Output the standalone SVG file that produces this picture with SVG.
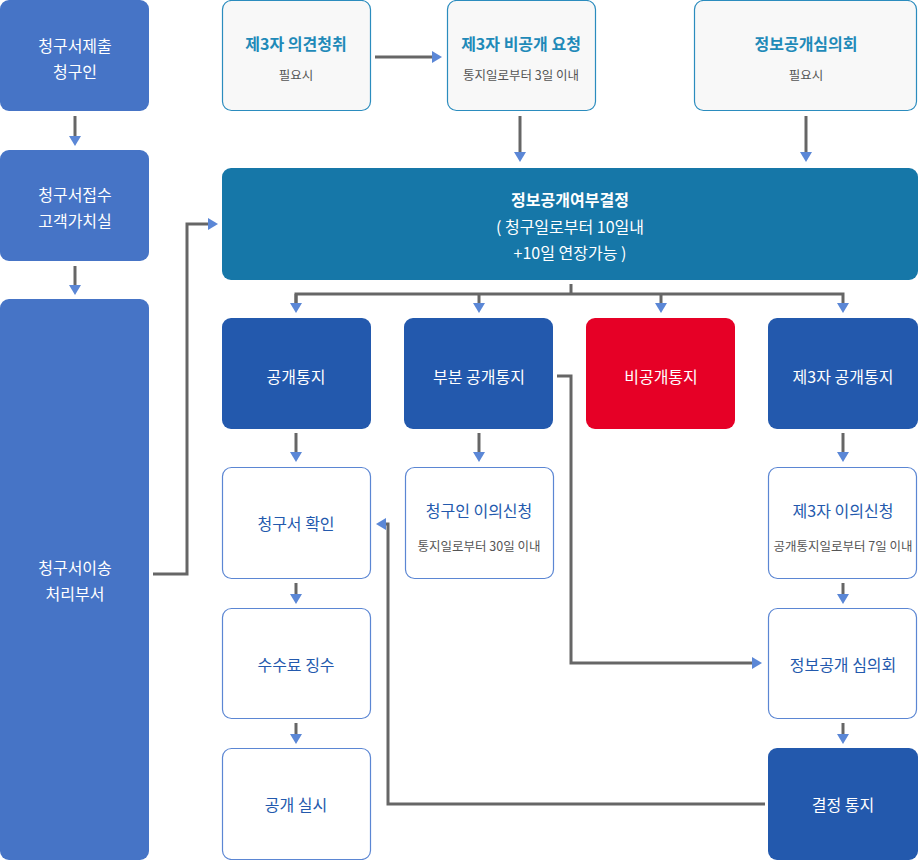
<svg xmlns="http://www.w3.org/2000/svg" width="918" height="860" viewBox="0 0 918 860">
<defs>
<style>
text{font-family:"Noto Sans CJK KR","Noto Sans",sans-serif;text-anchor:middle;letter-spacing:0px}
.left{fill:#4674c6}
.wt{fill:#fff;font-size:16px}
.top{fill:#f8f8f8;stroke:#2b8cbe;stroke-width:1.2}
.tt{fill:#1f8ab8;font-size:16px;font-weight:bold}
.sub{fill:#555;font-size:12.5px}
.teal{fill:#1677a8}
.dark{fill:#2359ad}
.red{fill:#e60026}
.wb{fill:#fff;stroke:#5b86d3;stroke-width:1.2}
.bt{fill:#2359ad;font-size:16px}
.c{fill:none;stroke:#666;stroke-width:3}
</style>
<marker id="ar" markerUnits="userSpaceOnUse" markerWidth="10" markerHeight="12" refX="0" refY="6" orient="auto" viewBox="0 0 10 12">
<path d="M0,0 L10,6 L0,12 z" fill="#5b87d6"/>
</marker>
</defs>
<g id="n1"><rect class="left" x="0" y="0" width="149" height="111" rx="9"/><text class="wt" x="75" y="52">청구서제출</text><text class="wt" x="75" y="78">청구인</text></g>
<g id="n2"><rect class="left" x="0" y="150" width="149" height="111" rx="9"/><text class="wt" x="75" y="201">청구서접수</text><text class="wt" x="75" y="227">고객가치실</text></g>
<g id="n3"><rect class="left" x="0" y="299" width="149" height="561" rx="9"/><text class="wt" x="75" y="574">청구서이송</text><text class="wt" x="75" y="600">처리부서</text></g>
<g id="n4"><rect class="top" x="222.5" y="0.5" width="148" height="110" rx="9"/><text class="tt" x="296" y="50">제3자 의견청취</text><text class="sub" x="296" y="80">필요시</text></g>
<g id="n5"><rect class="top" x="447.5" y="0.5" width="148" height="110" rx="9"/><text class="tt" x="521" y="50">제3자 비공개 요청</text><text class="sub" x="521" y="80">통지일로부터 3일 이내</text></g>
<g id="n6"><rect class="top" x="694.5" y="0.5" width="222" height="110" rx="9"/><text class="tt" x="806" y="50">정보공개심의회</text><text class="sub" x="806" y="80">필요시</text></g>
<g id="n7"><rect class="teal" x="222" y="168" width="696" height="112" rx="9"/><text class="wt" x="570" y="206" font-weight="bold">정보공개여부결정</text><text class="wt" x="570" y="233" font-size="15px">( 청구일로부터 10일내</text><text class="wt" x="570" y="259" font-size="15px">+10일 연장가능 )</text></g>
<g id="n8"><rect class="dark" x="222" y="318" width="149" height="111" rx="9"/><text class="wt" x="296" y="383">공개통지</text></g>
<g id="n9"><rect class="dark" x="404" y="318" width="149" height="111" rx="9"/><text class="wt" x="479" y="383">부분 공개통지</text></g>
<g id="n10"><rect class="red" x="586" y="318" width="149" height="111" rx="9"/><text class="wt" x="661" y="383">비공개통지</text></g>
<g id="n11"><rect class="dark" x="768" y="318" width="150" height="111" rx="9"/><text class="wt" x="843" y="383">제3자 공개통지</text></g>
<g id="n12"><rect class="wb" x="222.5" y="467.5" width="148" height="111" rx="9"/><text class="bt" x="296" y="530">청구서 확인</text></g>
<g id="n13"><rect class="wb" x="405.5" y="467.5" width="148" height="111" rx="9"/><text class="bt" x="479" y="517">청구인 이의신청</text><text class="sub" x="479" y="551">통지일로부터 30일 이내</text></g>
<g id="n14"><rect class="wb" x="768.5" y="467.5" width="148" height="111" rx="9"/><text class="bt" x="843" y="517">제3자 이의신청</text><text class="sub" x="843" y="551">공개통지일로부터 7일 이내</text></g>
<g id="n15"><rect class="wb" x="222.5" y="608.5" width="148" height="110" rx="9"/><text class="bt" x="296" y="671">수수료 징수</text></g>
<g id="n16"><rect class="wb" x="768.5" y="608.5" width="148" height="110" rx="9"/><text class="bt" x="843" y="671">정보공개 심의회</text></g>
<g id="n17"><rect class="wb" x="222.5" y="748.5" width="148" height="111" rx="9"/><text class="bt" x="296" y="811">공개 실시</text></g>
<g id="n18"><rect class="dark" x="768" y="748" width="150" height="112" rx="9"/><text class="wt" x="843" y="811">결정 통지</text></g>
<g id="connectors">
<path class="c" d="M75,116 V136" marker-end="url(#ar)"/>
<path class="c" d="M75,266 V285" marker-end="url(#ar)"/>
<path class="c" d="M375,57 H432" marker-end="url(#ar)"/>
<path class="c" d="M520,116 V152" marker-end="url(#ar)"/>
<path class="c" d="M806,116 V152" marker-end="url(#ar)"/>
<path class="c" d="M153,574 H187 V224 H208" marker-end="url(#ar)"/>
<path class="c" d="M571,284 V294"/>
<path class="c" d="M296,304 V294 H843 V303" marker-end="url(#ar)"/>
<path class="c" d="M296,294 V303" marker-end="url(#ar)"/>
<path class="c" d="M479,294 V303" marker-end="url(#ar)"/>
<path class="c" d="M661,294 V303" marker-end="url(#ar)"/>
<path class="c" d="M296,433 V452" marker-end="url(#ar)"/>
<path class="c" d="M479,433 V452" marker-end="url(#ar)"/>
<path class="c" d="M843,433 V452" marker-end="url(#ar)"/>
<path class="c" d="M296,583 V594" marker-end="url(#ar)"/>
<path class="c" d="M843,583 V594" marker-end="url(#ar)"/>
<path class="c" d="M296,723 V734" marker-end="url(#ar)"/>
<path class="c" d="M843,723 V734" marker-end="url(#ar)"/>
<path class="c" d="M557,376 H571 V663 H752" marker-end="url(#ar)"/>
<path class="c" d="M765,804 H388 V524 H386" marker-end="url(#ar)"/>
</g>
</svg>
